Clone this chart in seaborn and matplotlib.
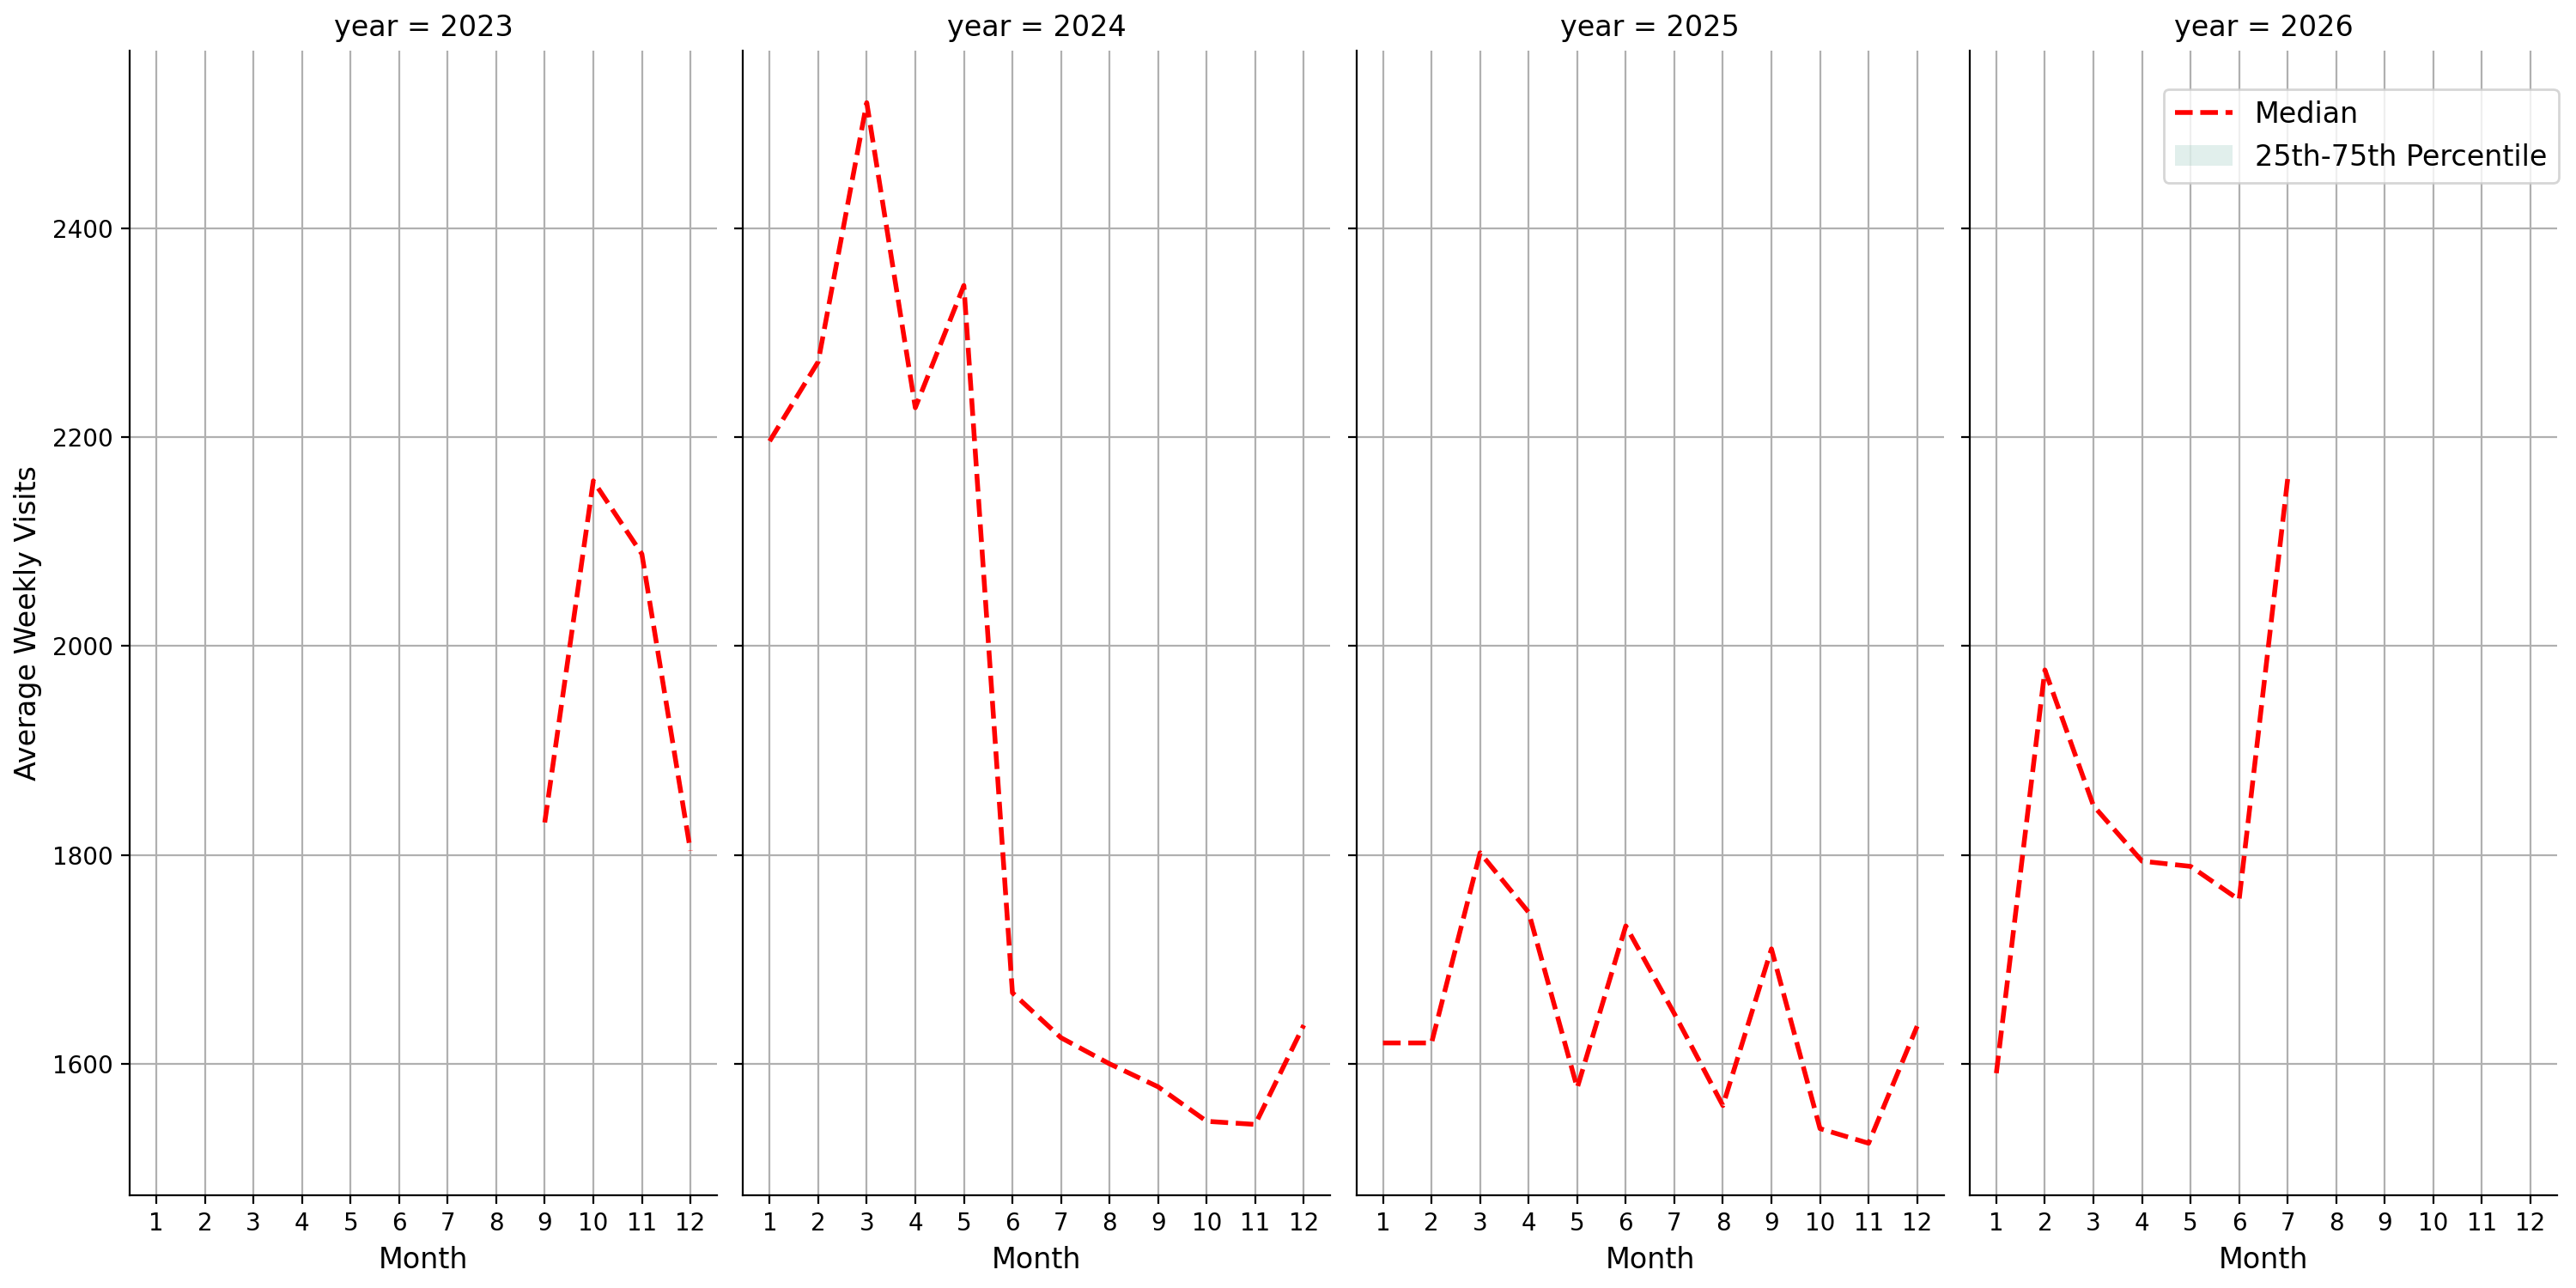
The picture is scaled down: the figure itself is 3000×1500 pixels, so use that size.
import pandas as pd
import numpy as np
import seaborn as sns
import matplotlib
matplotlib.use("Agg")
import matplotlib.pyplot as plt
from matplotlib.lines import Line2D
from matplotlib.patches import Patch

# Median weekly visits per month
months_2023 = [9, 10, 11, 12]
median_2023 = [1831, 2158, 2088, 1804]

months_2024 = [1, 2, 3, 4, 5, 6, 7, 8, 9, 10, 11, 12]
median_2024 = [2196, 2272, 2520, 2228, 2345, 1668, 1625, 1600, 1578, 1545, 1542, 1637]

months_2025 = [1, 2, 3, 4, 5, 6, 7, 8, 9, 10, 11, 12]
median_2025 = [1620, 1620, 1802, 1745, 1577, 1732, 1648, 1560, 1710, 1538, 1524, 1636]

months_2026 = [1, 2, 3, 4, 5, 6, 7]
median_2026 = [1591, 1977, 1847, 1794, 1789, 1757, 2160]

month_ticks = list(range(1, 13))

# Build long-form table
frames = []
for yr, m, v in [(2023, months_2023, median_2023),
                 (2024, months_2024, median_2024),
                 (2025, months_2025, median_2025),
                 (2026, months_2026, median_2026)]:
    frames.append(pd.DataFrame({'year': yr, 'month': m, 'visits': v}))
df = pd.concat(frames, ignore_index=True)

plt.rcParams['font.family'] = ['DejaVu Sans']
plt.rcParams['xtick.labelsize'] = 10
plt.rcParams['ytick.labelsize'] = 10

g = sns.FacetGrid(df, col='year', sharey=True, sharex=True, height=7.5, aspect=0.5)
g.map_dataframe(sns.lineplot, x='month', y='visits', color='red',
                linestyle='--', linewidth=2, errorbar=None)

for ax in g.axes.flat:
    ax.grid(True, color='#b0b0b0', linewidth=0.8)
    ax.set_axisbelow(True)
    ax.set_xticks(month_ticks)
    ax.set_xlabel('Month', fontsize=12)
    ax.set_title(ax.get_title(), fontsize=12)

g.axes[0, 0].set_ylabel('Average Weekly Visits', fontsize=12)
g.axes[0, 0].set_yticks([1600, 1800, 2000, 2200, 2400])

# Legend in last panel
handles = [Line2D([0], [0], color='red', linestyle='--', linewidth=2),
           Patch(facecolor='#69b3a2', alpha=0.2)]
g.axes[0, -1].legend(handles, ['Median', '25th-75th Percentile'],
                     loc='upper right', bbox_to_anchor=(1.027, 0.979), fontsize=12)

g.figure.subplots_adjust(left=0.0503, right=0.9927, bottom=0.072, top=0.9607, wspace=0.0439)
g.figure.savefig('out.png', dpi=200)
